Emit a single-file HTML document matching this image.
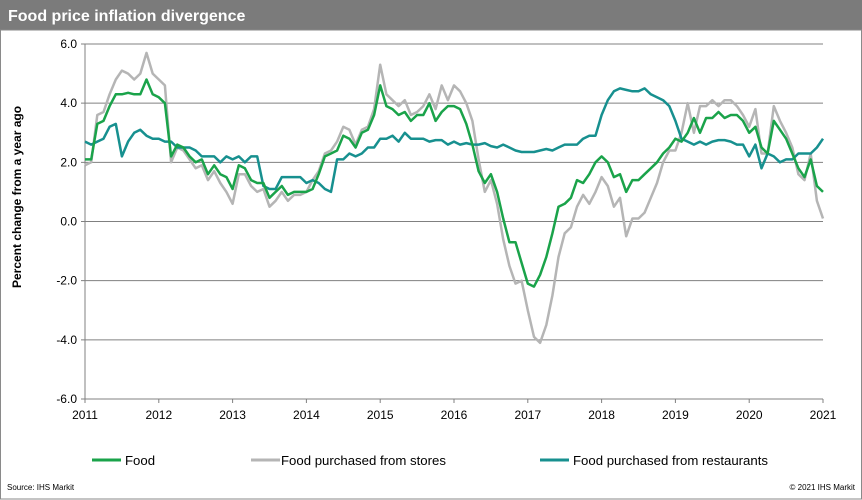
<!DOCTYPE html>
<html><head><meta charset="utf-8"><style>
body{margin:0;background:#fff;font-family:"Liberation Sans",sans-serif}
svg{display:block}
</style></head><body>
<svg id="c" width="862" height="500">
<rect x="0" y="0" width="862" height="30" fill="#7b7b7b"/>
<text x="8" y="21" fill="#fff" font-size="16" font-weight="bold">Food price inflation divergence</text>
<rect x="0.5" y="30" width="861" height="469" fill="none" stroke="#8a8a8a"/>
<g id="grid"></g><g id="series"></g>
<text transform="translate(21,197) rotate(-90)" text-anchor="middle" font-size="12" font-weight="bold" fill="#000">Percent change from a year ago</text>
<g>
<line x1="92" y1="460" x2="121" y2="460" stroke="#1aa34a" stroke-width="3"/>
<text x="125" y="465" font-size="13.2">Food</text>
<line x1="251" y1="460" x2="280" y2="460" stroke="#b5b5b5" stroke-width="3"/>
<text x="281" y="465" font-size="13.2">Food purchased from stores</text>
<line x1="540" y1="460" x2="569" y2="460" stroke="#17908f" stroke-width="3"/>
<text x="573" y="465" font-size="13.2">Food purchased from restaurants</text>
</g>
<text x="7" y="490" font-size="8">Source: IHS Markit</text>
<text x="855" y="490" font-size="8" text-anchor="end">© 2021  IHS Markit</text>
</svg>
<script>
const yTicks=[6,4,2,0,-2,-4,-6];
const yLabels=["6.0","4.0","2.0","0.0","-2.0","-4.0","-6.0"];
const xLabels=["2011","2012","2013","2014","2015","2016","2017","2018","2019","2020","2021"];
const food=[2.1,2.1,3.3,3.4,3.9,4.3,4.3,4.35,4.3,4.3,4.8,4.3,
4.2,4.0,2.2,2.6,2.5,2.2,2.0,2.1,1.6,1.9,1.6,1.5,
1.1,1.9,1.8,1.4,1.3,1.3,0.8,1.0,1.2,0.9,1.0,1.0,
1.0,1.1,1.6,2.2,2.3,2.4,2.9,2.8,2.5,3.0,3.1,3.6,
4.6,3.9,3.8,3.6,3.7,3.4,3.6,3.6,4.0,3.4,3.7,3.9,
3.9,3.8,3.3,2.6,1.7,1.3,1.6,1.0,0.1,-0.7,-0.7,-1.4,
-2.1,-2.2,-1.8,-1.2,-0.4,0.5,0.6,0.8,1.4,1.3,1.6,2.0,
2.2,2.0,1.5,1.6,1.0,1.4,1.4,1.6,1.8,2.0,2.3,2.5,
2.8,2.7,3.0,3.5,3.0,3.5,3.5,3.7,3.5,3.6,3.6,3.4,
3.0,3.2,2.5,2.3,3.4,3.1,2.8,2.3,1.8,1.5,2.1,1.2,1.0];
const stores=[1.9,2.0,3.6,3.7,4.3,4.8,5.1,5.0,4.8,5.0,5.7,5.0,
4.8,4.6,2.0,2.5,2.4,2.1,1.8,1.9,1.4,1.7,1.3,1.0,
0.6,1.6,1.6,1.2,1.0,1.1,0.5,0.7,1.0,0.7,0.9,0.9,
1.0,1.4,1.7,2.3,2.4,2.7,3.2,3.1,2.6,3.1,3.2,3.8,
5.3,4.3,4.1,3.9,4.1,3.6,3.7,3.9,4.3,3.8,4.6,4.1,
4.6,4.4,4.0,3.4,2.1,1.0,1.4,0.6,-0.6,-1.5,-2.1,-2.0,
-3.0,-3.9,-4.1,-3.5,-2.5,-1.2,-0.4,-0.2,0.5,0.9,0.6,1.0,
1.5,1.2,0.5,0.8,-0.5,0.1,0.1,0.3,0.8,1.3,2.0,2.4,
2.4,3.0,4.0,3.0,3.9,3.9,4.1,3.9,4.1,4.1,3.9,3.6,
3.2,3.8,2.3,2.3,3.9,3.4,3.0,2.5,1.6,1.4,2.3,0.7,0.1];
const restaurants=[2.7,2.6,2.7,2.8,3.2,3.3,2.2,2.7,3.0,3.1,2.9,2.8,
2.8,2.7,2.7,2.5,2.5,2.5,2.4,2.2,2.2,2.2,2.0,2.2,
2.1,2.2,2.0,2.2,2.2,1.2,1.1,1.1,1.5,1.5,1.5,1.5,
1.3,1.4,1.3,1.1,1.0,2.1,2.1,2.3,2.2,2.3,2.5,2.5,
2.8,2.8,2.9,2.7,3.0,2.8,2.8,2.8,2.7,2.75,2.75,2.6,
2.7,2.6,2.65,2.6,2.6,2.65,2.55,2.5,2.6,2.5,2.4,2.35,
2.35,2.35,2.4,2.45,2.4,2.5,2.6,2.6,2.6,2.8,2.9,2.9,
3.6,4.1,4.4,4.5,4.45,4.4,4.4,4.5,4.3,4.2,4.1,3.9,
3.4,2.8,2.7,2.6,2.7,2.6,2.7,2.75,2.75,2.7,2.6,2.6,
2.2,2.6,1.8,2.3,2.2,2.0,2.1,2.1,2.3,2.3,2.3,2.5,2.8];
const NS="http://www.w3.org/2000/svg";
const X0=85,X1=823,Y0=44,Y1=399;
function xs(i){return X0+(X1-X0)*i/120;}
function ys(v){return Y1-(v+6)/12*(Y1-Y0);}
const grid=document.getElementById('grid');
yTicks.forEach((t,i)=>{
 const l=document.createElementNS(NS,'line');
 l.setAttribute('x1',X0-4);l.setAttribute('x2',X1);l.setAttribute('y1',ys(t));l.setAttribute('y2',ys(t));
 l.setAttribute('stroke','#808080');l.setAttribute('stroke-width','1');
 
 
 grid.appendChild(l);
 const tx=document.createElementNS(NS,'text');
 tx.setAttribute('x',X0-8);tx.setAttribute('y',ys(t)+4);tx.setAttribute('text-anchor','end');tx.setAttribute('font-size','12');
 tx.textContent=yLabels[i];
 
 
 grid.appendChild(tx);
});
const ax=document.createElementNS(NS,'line');
ax.setAttribute('x1',X0);ax.setAttribute('x2',X0);ax.setAttribute('y1',Y0);ax.setAttribute('y2',Y1);ax.setAttribute('stroke','#808080');


grid.appendChild(ax);
xLabels.forEach((s,i)=>{
 const x=xs(i*12);
 const tk=document.createElementNS(NS,'line');
 tk.setAttribute('x1',x);tk.setAttribute('x2',x);tk.setAttribute('y1',Y1);tk.setAttribute('y2',Y1+4);tk.setAttribute('stroke','#808080');
 
 
 grid.appendChild(tk);
 const tx=document.createElementNS(NS,'text');
 tx.setAttribute('x',x);tx.setAttribute('y',Y1+20);tx.setAttribute('text-anchor','middle');tx.setAttribute('font-size','12');
 tx.textContent=s;
 
 
 grid.appendChild(tx);
});
const ser=document.getElementById('series');
function line(arr,color,name){
 const p=document.createElementNS(NS,'polyline');
 p.setAttribute('points',arr.map((v,i)=>xs(i).toFixed(1)+','+ys(v).toFixed(1)).join(' '));
 p.setAttribute('fill','none');p.setAttribute('stroke',color);p.setAttribute('stroke-width','2.5');p.setAttribute('stroke-linejoin','round');
 
 
 ser.appendChild(p);
}
line(stores,'#b5b5b5','series-stores');
line(restaurants,'#17908f','series-restaurants');
line(food,'#1aa34a','series-food');
</script>
</body></html>
